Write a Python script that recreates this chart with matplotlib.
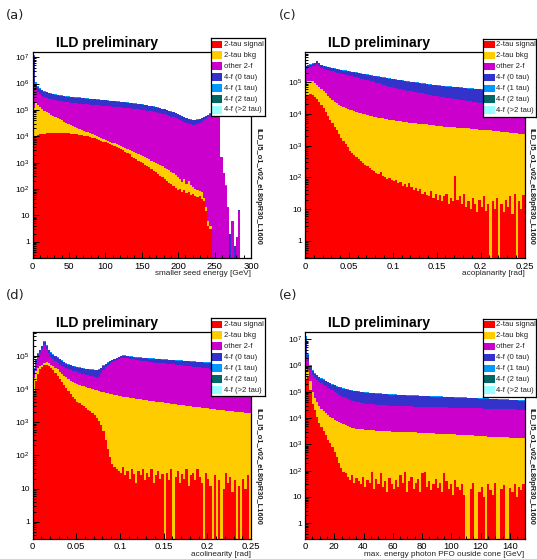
import numpy as np
import matplotlib
matplotlib.use("Agg")
import matplotlib.pyplot as plt
from matplotlib.ticker import FixedLocator, FixedFormatter, NullFormatter, MultipleLocator, FuncFormatter
from matplotlib.patches import Rectangle

plt.rcParams['font.family'] = ['Liberation Sans', 'DejaVu Sans']
plt.rcParams['mathtext.fontset'] = 'custom'
plt.rcParams['mathtext.rm'] = 'Liberation Sans'
plt.rcParams['mathtext.it'] = 'Liberation Sans:italic'
plt.rcParams['mathtext.bf'] = 'Liberation Sans:bold'

# ---------------------------------------------------------------- data
legend_labels = ['2-tau signal', '2-tau bkg', 'other 2-f', '4-f (0 tau)',
                 '4-f (1 tau)', '4-f (2 tau)', '4-f (>2 tau)']
legend_colors = ['#ff0000', '#ffcc00', '#cc00cc', '#3333cc', '#0099ff', '#006666', '#99ffff']
run_tag = 'ILD_l5_o1_v02_eL80pR30_L1600'
title_text = 'ILD preliminary'

# Stacked (cumulative) bin heights, 100 bins per panel.
# (a) smaller seed energy [GeV], 0-300
a_sig = [9.0e3, 1.05e4, 1.12e4, 1.17e4, 1.2e4, 1.26e4, 1.3e4, 1.32e4, 1.35e4, 1.32e4,
         1.35e4, 1.33e4, 1.32e4, 1.3e4, 1.32e4, 1.29e4, 1.28e4, 1.26e4, 1.25e4, 1.23e4,
         1.2e4, 1.15e4, 1.12e4, 1.07e4, 1.05e4, 1.0e4, 9.5e3, 8.9e3, 8.5e3, 7.9e3,
         7.4e3, 6.9e3, 6.3e3, 5.9e3, 5.5e3, 5.0e3, 4.6e3, 4.2e3, 3.8e3, 3.5e3,
         3.2e3, 2.9e3, 2.6e3, 2.35e3, 2.1e3, 1.7e3, 1.5e3, 1.35e3, 1.2e3, 1.1e3,
         1.0e3, 850, 760, 660, 560, 500, 430, 360, 320, 280,
         240, 200, 175, 150, 125, 112, 95, 100, 80, 90,
         70, 80, 60, 66, 56, 50, 52, 40, 35, 14,
         4, 3, 0, 0, 0, 0, 0, 0, 0, 0,
         0, 0, 0, 0, 0, 0, 0, 0, 0, 0]
a_bkg = [1.2e5, 1.8e5, 1.5e5, 1.25e5, 1.1e5, 9.5e4, 8.5e4, 7.5e4, 6.7e4, 6.0e4,
         5.4e4, 4.9e4, 4.4e4, 4.0e4, 3.6e4, 3.3e4, 3.0e4, 2.75e4, 2.5e4, 2.3e4,
         2.1e4, 1.95e4, 1.8e4, 1.65e4, 1.5e4, 1.4e4, 1.3e4, 1.2e4, 1.1e4, 1.0e4,
         9.2e3, 8.5e3, 7.9e3, 7.3e3, 6.8e3, 6.3e3, 5.8e3, 5.4e3, 5.0e3, 4.6e3,
         4.3e3, 3.9e3, 3.6e3, 3.3e3, 3.05e3, 2.8e3, 2.55e3, 2.35e3, 2.15e3, 1.95e3,
         1.8e3, 1.6e3, 1.45e3, 1.35e3, 1.2e3, 1.1e3, 1.0e3, 880, 800, 720,
         650, 560, 520, 450, 400, 330, 280, 250, 190, 240,
         160, 200, 140, 120, 100, 90, 85, 80, 45, 20,
         6, 4, 0, 0, 0, 0, 0, 0, 0, 0,
         0, 0, 0, 0, 0, 0, 0, 0, 0, 0]
a_oth = [1.0e6, 7.0e5, 4.8e5, 4.0e5, 3.5e5, 3.1e5, 2.9e5, 2.7e5, 2.55e5, 2.45e5,
         2.35e5, 2.25e5, 2.2e5, 2.12e5, 2.05e5, 2.0e5, 1.95e5, 1.9e5, 1.85e5, 1.82e5,
         1.78e5, 1.75e5, 1.7e5, 1.68e5, 1.65e5, 1.62e5, 1.6e5, 1.57e5, 1.55e5, 1.52e5,
         1.5e5, 1.47e5, 1.45e5, 1.42e5, 1.4e5, 1.37e5, 1.35e5, 1.32e5, 1.3e5, 1.27e5,
         1.25e5, 1.22e5, 1.2e5, 1.17e5, 1.15e5, 1.12e5, 1.1e5, 1.07e5, 1.05e5, 1.02e5,
         1.0e5, 9.7e4, 9.4e4, 9.1e4, 8.8e4, 8.5e4, 8.2e4, 7.8e4, 7.5e4, 7.1e4,
         6.8e4, 6.4e4, 6.0e4, 5.6e4, 5.2e4, 4.8e4, 4.4e4, 4.0e4, 3.7e4, 3.4e4,
         3.2e4, 3.0e4, 2.9e4, 2.8e4, 2.8e4, 2.9e4, 3.1e4, 3.5e4, 4.0e4, 4.6e4,
         5.5e4, 6.5e4, 7.5e4, 8.5e4, 9.0e4, 8.0e4, 1.6e3, 400, 130, 20,
         0, 6, 0, 1.5, 15, 0, 0, 0, 0, 0]
a_4f0 = [1.1e7, 1.0e6, 7.5e5, 6.2e5, 5.5e5, 5.0e5, 4.6e5, 4.3e5, 4.1e5, 3.9e5,
         3.75e5, 3.6e5, 3.5e5, 3.4e5, 3.3e5, 3.2e5, 3.1e5, 3.05e5, 3.0e5, 2.95e5,
         2.9e5, 2.85e5, 2.8e5, 2.75e5, 2.7e5, 2.65e5, 2.6e5, 2.55e5, 2.5e5, 2.46e5,
         2.42e5, 2.38e5, 2.34e5, 2.3e5, 2.25e5, 2.2e5, 2.16e5, 2.12e5, 2.08e5, 2.04e5,
         2.0e5, 1.96e5, 1.92e5, 1.88e5, 1.84e5, 1.8e5, 1.75e5, 1.7e5, 1.66e5, 1.62e5,
         1.58e5, 1.53e5, 1.48e5, 1.43e5, 1.38e5, 1.33e5, 1.28e5, 1.22e5, 1.16e5, 1.1e5,
         1.04e5, 9.8e4, 9.2e4, 8.6e4, 8.0e4, 7.4e4, 6.8e4, 6.2e4, 5.7e4, 5.2e4,
         4.8e4, 4.5e4, 4.3e4, 4.2e4, 4.2e4, 4.3e4, 4.5e4, 4.8e4, 5.3e4, 5.9e4,
         6.5e4, 7.3e4, 8.2e4, 9.2e4, 9.6e4, 8.6e4, 1.65e3, 410, 135, 21,
         2, 6, 0.7, 1.5, 15.5, 0, 0, 0, 0, 0]
a_4f1 = [1.2e7, 1.15e6, 8.3e5, 6.7e5, 5.9e5, 5.35e5, 4.9e5, 4.55e5, 4.35e5, 4.1e5,
         3.95e5, 3.8e5, 3.68e5, 3.57e5, 3.46e5, 3.35e5, 3.25e5, 3.19e5, 3.13e5, 3.08e5,
         3.03e5, 2.97e5, 2.92e5, 2.86e5, 2.81e5, 2.76e5, 2.7e5, 2.65e5, 2.6e5, 2.56e5,
         2.51e5, 2.47e5, 2.43e5, 2.39e5, 2.33e5, 2.28e5, 2.24e5, 2.2e5, 2.15e5, 2.11e5,
         2.07e5, 2.03e5, 1.99e5, 1.94e5, 1.9e5, 1.86e5, 1.81e5, 1.76e5, 1.71e5, 1.67e5,
         1.63e5, 1.58e5, 1.53e5, 1.47e5, 1.42e5, 1.37e5, 1.32e5, 1.26e5, 1.19e5, 1.13e5,
         1.07e5, 1.01e5, 9.45e4, 8.85e4, 8.2e4, 7.6e4, 6.95e4, 6.35e4, 5.85e4, 5.3e4,
         4.9e4, 4.6e4, 4.4e4, 4.3e4, 4.3e4, 4.4e4, 4.6e4, 4.9e4, 5.4e4, 6.0e4,
         6.6e4, 7.4e4, 8.3e4, 9.3e4, 9.7e4, 8.7e4, 1.67e3, 415, 136, 21,
         2, 6, 0.7, 1.5, 15.5, 0, 0, 0, 0, 0]

# (c) acoplanarity [rad], 0-0.25
c_sig = [3.6e4, 4.0e4, 4.2e4, 4.0e4, 3.5e4, 3.0e4, 2.4e4, 1.9e4, 1.5e4, 1.15e4,
         8.5e3, 6.5e3, 5.0e3, 3.8e3, 3.0e3, 2.3e3, 1.8e3, 1.4e3, 1.1e3, 900,
         700, 600, 520, 430, 380, 340, 280, 250, 230, 200,
         170, 160, 140, 125, 150, 110, 100, 90, 95, 80,
         75, 85, 65, 70, 55, 60, 48, 65, 50, 40,
         45, 38, 42, 30, 35, 28, 25, 38, 22, 30,
         20, 28, 18, 25, 30, 15, 22, 18, 110, 20,
         25, 15, 30, 12, 18, 10, 22, 14, 8, 20,
         12, 25, 9, 15, 0, 18, 10, 22, 0, 15,
         8, 20, 12, 25, 7, 30, 0, 18, 10, 28]
c_bkg = [9.0e4, 1.05e5, 1.1e5, 1.05e5, 9.5e4, 8.2e4, 7.0e4, 6.0e4, 5.2e4, 4.4e4,
         3.7e4, 3.2e4, 2.8e4, 2.45e4, 2.15e4, 1.9e4, 1.75e4, 1.6e4, 1.5e4, 1.42e4,
         1.35e4, 1.28e4, 1.22e4, 1.16e4, 1.1e4, 1.05e4, 1.0e4, 9.6e3, 9.2e3, 8.8e3,
         8.6e3, 8.2e3, 7.9e3, 7.7e3, 7.4e3, 7.2e3, 7.0e3, 6.7e3, 6.6e3, 6.4e3,
         6.2e3, 6.1e3, 5.9e3, 5.8e3, 5.7e3, 5.5e3, 5.5e3, 5.3e3, 5.3e3, 5.1e3,
         5.1e3, 4.9e3, 4.9e3, 4.8e3, 4.7e3, 4.65e3, 4.6e3, 4.4e3, 4.45e3, 4.3e3,
         4.3e3, 4.15e3, 4.15e3, 4.0e3, 4.0e3, 3.9e3, 3.9e3, 3.8e3, 3.85e3, 3.7e3,
         3.7e3, 3.6e3, 3.6e3, 3.5e3, 3.5e3, 3.4e3, 3.4e3, 3.3e3, 3.3e3, 3.2e3,
         3.2e3, 3.1e3, 3.1e3, 3.0e3, 3.0e3, 2.9e3, 2.9e3, 2.85e3, 2.8e3, 2.7e3,
         2.7e3, 2.65e3, 2.65e3, 2.55e3, 2.55e3, 2.5e3, 2.5e3, 2.4e3, 2.4e3, 2.35e3]
c_oth = [2.6e5, 2.8e5, 3.0e5, 3.2e5, 3.3e5, 3.8e5, 3.2e5, 2.8e5, 2.6e5, 2.5e5,
         2.4e5, 2.3e5, 2.2e5, 2.1e5, 2.0e5, 1.93e5, 1.86e5, 1.8e5, 1.73e5, 1.67e5,
         1.6e5, 1.54e5, 1.48e5, 1.42e5, 1.36e5, 1.3e5, 1.25e5, 1.2e5, 1.15e5, 1.1e5,
         1.05e5, 1.0e5, 9.6e4, 9.2e4, 8.8e4, 8.4e4, 8.0e4, 7.6e4, 7.2e4, 6.9e4,
         6.6e4, 6.4e4, 6.2e4, 6.0e4, 5.8e4, 5.6e4, 5.45e4, 5.3e4, 5.1e4, 4.95e4,
         4.8e4, 4.65e4, 4.5e4, 4.4e4, 4.25e4, 4.1e4, 4.0e4, 3.9e4, 3.8e4, 3.7e4,
         3.6e4, 3.5e4, 3.42e4, 3.34e4, 3.26e4, 3.18e4, 3.1e4, 3.02e4, 2.95e4, 2.88e4,
         2.81e4, 2.74e4, 2.67e4, 2.6e4, 2.54e4, 2.48e4, 2.42e4, 2.37e4, 2.32e4, 2.27e4,
         2.22e4, 2.17e4, 2.12e4, 2.08e4, 2.04e4, 2.0e4, 1.96e4, 1.92e4, 1.88e4, 1.84e4,
         1.8e4, 1.77e4, 1.74e4, 1.71e4, 1.68e4, 1.65e4, 1.62e4, 1.59e4, 1.56e4, 1.53e4]
c_4f0 = [3.2e5, 3.4e5, 3.6e5, 3.8e5, 4.0e5, 4.6e5, 3.9e5, 3.4e5, 3.2e5, 3.05e5,
         2.95e5, 2.85e5, 2.75e5, 2.65e5, 2.55e5, 2.47e5, 2.4e5, 2.33e5, 2.26e5, 2.2e5,
         2.14e5, 2.08e5, 2.02e5, 1.96e5, 1.9e5, 1.85e5, 1.8e5, 1.75e5, 1.7e5, 1.65e5,
         1.6e5, 1.56e5, 1.52e5, 1.48e5, 1.44e5, 1.4e5, 1.36e5, 1.32e5, 1.28e5, 1.25e5,
         1.22e5, 1.19e5, 1.16e5, 1.13e5, 1.1e5, 1.07e5, 1.04e5, 1.02e5, 1.0e5, 9.8e4,
         9.6e4, 9.4e4, 9.2e4, 9.0e4, 8.8e4, 8.6e4, 8.4e4, 8.2e4, 8.0e4, 7.9e4,
         7.8e4, 7.6e4, 7.5e4, 7.4e4, 7.3e4, 7.2e4, 7.1e4, 7.0e4, 6.9e4, 6.8e4,
         6.7e4, 6.6e4, 6.5e4, 6.4e4, 6.3e4, 6.2e4, 6.1e4, 6.0e4, 5.95e4, 5.9e4,
         5.85e4, 5.8e4, 5.75e4, 5.7e4, 5.65e4, 5.6e4, 5.55e4, 5.5e4, 5.45e4, 5.4e4,
         5.35e4, 5.3e4, 5.25e4, 5.2e4, 5.15e4, 5.1e4, 5.05e4, 5.0e4, 5.0e4, 4.95e4]
c_4f1 = [3.35e5, 3.55e5, 3.75e5, 3.95e5, 4.15e5, 4.8e5, 4.05e5, 3.55e5, 3.33e5, 3.17e5,
         3.07e5, 2.96e5, 2.86e5, 2.76e5, 2.65e5, 2.57e5, 2.5e5, 2.42e5, 2.35e5, 2.29e5,
         2.23e5, 2.16e5, 2.1e5, 2.04e5, 1.98e5, 1.92e5, 1.87e5, 1.82e5, 1.77e5, 1.72e5,
         1.66e5, 1.62e5, 1.58e5, 1.54e5, 1.5e5, 1.46e5, 1.41e5, 1.37e5, 1.33e5, 1.3e5,
         1.27e5, 1.24e5, 1.21e5, 1.18e5, 1.14e5, 1.11e5, 1.08e5, 1.06e5, 1.04e5, 1.02e5,
         1.0e5, 9.8e4, 9.6e4, 9.35e4, 9.15e4, 8.95e4, 8.75e4, 8.55e4, 8.3e4, 8.2e4,
         8.1e4, 7.9e4, 7.8e4, 7.7e4, 7.6e4, 7.5e4, 7.4e4, 7.3e4, 7.2e4, 7.1e4,
         6.95e4, 6.85e4, 6.75e4, 6.65e4, 6.55e4, 6.45e4, 6.35e4, 6.25e4, 6.2e4, 6.15e4,
         6.1e4, 6.05e4, 6.0e4, 5.95e4, 5.9e4, 5.85e4, 5.8e4, 5.7e4, 5.65e4, 5.6e4,
         5.55e4, 5.5e4, 5.45e4, 5.4e4, 5.35e4, 5.3e4, 5.25e4, 5.2e4, 5.2e4, 5.15e4]

# (d) acolinearity [rad], 0-0.25
d_sig = [9e3, 1.8e4, 2.8e4, 4.0e4, 4.6e4, 5.2e4, 5.3e4, 5.0e4, 4.4e4, 3.7e4,
         3.1e4, 2.5e4, 2.0e4, 1.6e4, 1.3e4, 1.05e4, 8.5e3, 7.0e3, 5.8e3, 4.9e3,
         4.2e3, 3.7e3, 3.3e3, 3.0e3, 2.7e3, 2.4e3, 2.2e3, 1.9e3, 1.6e3, 1.35e3,
         1.1e3, 850, 550, 300, 160, 90, 55, 45, 40, 35,
         30, 45, 25, 35, 20, 40, 28, 15, 35, 25,
         40, 18, 30, 22, 38, 15, 25, 35, 20, 28,
         0, 30, 18, 40, 0, 22, 35, 15, 28, 20,
         38, 12, 25, 30, 18, 40, 22, 15, 0, 30,
         20, 12, 0, 25, 0, 18, 0, 10, 30, 15,
         22, 8, 18, 0, 12, 0, 20, 10, 25, 0]
d_bkg = [2.2e4, 3.4e4, 4.2e4, 5.0e4, 5.5e4, 6.2e4, 6.6e4, 6.0e4, 5.5e4, 5.0e4,
         4.4e4, 3.9e4, 3.2e4, 2.8e4, 2.5e4, 2.25e4, 2.0e4, 1.8e4, 1.65e4, 1.5e4,
         1.38e4, 1.3e4, 1.25e4, 1.2e4, 1.15e4, 1.1e4, 1.05e4, 1.0e4, 9.6e3, 9.2e3,
         8.8e3, 8.4e3, 8.0e3, 7.7e3, 7.4e3, 7.1e3, 6.9e3, 6.7e3, 6.5e3, 6.3e3,
         6.1e3, 5.95e3, 5.8e3, 5.65e3, 5.5e3, 5.4e3, 5.3e3, 5.2e3, 5.05e3, 4.9e3,
         4.8e3, 4.7e3, 4.6e3, 4.5e3, 4.4e3, 4.3e3, 4.2e3, 4.1e3, 4.0e3, 3.95e3,
         3.85e3, 3.75e3, 3.7e3, 3.6e3, 3.5e3, 3.45e3, 3.4e3, 3.3e3, 3.25e3, 3.2e3,
         3.1e3, 3.05e3, 3.0e3, 2.95e3, 2.9e3, 2.85e3, 2.8e3, 2.75e3, 2.7e3, 2.65e3,
         2.6e3, 2.55e3, 2.5e3, 2.45e3, 2.4e3, 2.4e3, 2.35e3, 2.3e3, 2.25e3, 2.2e3,
         2.2e3, 2.15e3, 2.1e3, 2.1e3, 2.05e3, 2.0e3, 2.0e3, 1.95e3, 1.95e3, 1.9e3]
d_oth = [2.8e4, 6.0e4, 9.0e4, 1.2e5, 1.6e5, 2.2e5, 1.6e5, 1.2e5, 9.5e4, 8.0e4,
         7.0e4, 6.2e4, 5.5e4, 5.0e4, 4.6e4, 4.3e4, 4.0e4, 3.8e4, 3.6e4, 3.4e4,
         3.2e4, 3.05e4, 2.9e4, 2.8e4, 2.7e4, 2.6e4, 2.5e4, 2.4e4, 2.3e4, 2.2e4,
         2.3e4, 3.0e4, 3.8e4, 4.5e4, 5.2e4, 5.8e4, 6.4e4, 7.0e4, 7.6e4, 8.2e4,
         8.6e4, 8.8e4, 8.6e4, 8.4e4, 8.2e4, 8.0e4, 7.8e4, 7.6e4, 7.4e4, 7.2e4,
         7.0e4, 6.9e4, 6.8e4, 6.6e4, 6.5e4, 6.3e4, 6.25e4, 6.2e4, 6.1e4, 6.05e4,
         6.0e4, 5.9e4, 5.8e4, 5.7e4, 5.6e4, 5.5e4, 5.4e4, 5.3e4, 5.2e4, 5.1e4,
         5.0e4, 4.9e4, 4.8e4, 4.7e4, 4.65e4, 4.55e4, 4.5e4, 4.4e4, 4.35e4, 4.25e4,
         4.2e4, 4.1e4, 4.05e4, 3.95e4, 3.9e4, 3.85e4, 3.75e4, 3.7e4, 3.65e4, 3.6e4,
         3.5e4, 3.45e4, 3.4e4, 3.35e4, 3.3e4, 3.25e4, 3.2e4, 3.15e4, 3.1e4, 3.05e4]
d_4f0 = [4.0e4, 8.0e4, 1.15e5, 1.5e5, 1.95e5, 2.7e5, 2.0e5, 1.5e5, 1.25e5, 1.1e5,
         9.8e4, 8.8e4, 7.8e4, 7.0e4, 6.4e4, 5.9e4, 5.5e4, 5.2e4, 4.9e4, 4.7e4,
         4.5e4, 4.3e4, 4.2e4, 4.1e4, 4.0e4, 3.9e4, 3.8e4, 3.75e4, 3.7e4, 3.65e4,
         3.8e4, 4.3e4, 5.0e4, 5.6e4, 6.2e4, 6.8e4, 7.4e4, 8.0e4, 8.6e4, 9.2e4,
         9.8e4, 1.0e5, 9.9e4, 9.7e4, 9.5e4, 9.3e4, 9.1e4, 8.9e4, 8.8e4, 8.7e4,
         8.6e4, 8.5e4, 8.4e4, 8.3e4, 8.2e4, 8.1e4, 8.0e4, 7.9e4, 7.8e4, 7.7e4,
         7.6e4, 7.5e4, 7.45e4, 7.4e4, 7.3e4, 7.2e4, 7.15e4, 7.1e4, 7.0e4, 6.95e4,
         6.9e4, 6.8e4, 6.7e4, 6.65e4, 6.6e4, 6.5e4, 6.45e4, 6.4e4, 6.3e4, 6.25e4,
         6.2e4, 6.1e4, 6.05e4, 6.0e4, 5.95e4, 5.9e4, 5.85e4, 5.8e4, 5.75e4, 5.7e4,
         5.65e4, 5.6e4, 5.55e4, 5.5e4, 5.45e4, 5.4e4, 5.35e4, 5.3e4, 5.25e4, 5.2e4]
d_4f1 = [4.2e4, 8.3e4, 1.2e5, 1.56e5, 2.03e5, 2.8e5, 2.08e5, 1.56e5, 1.3e5, 1.14e5,
         1.02e5, 9.15e4, 8.1e4, 7.3e4, 6.65e4, 6.15e4, 5.7e4, 5.4e4, 5.1e4, 4.9e4,
         4.7e4, 4.5e4, 4.35e4, 4.25e4, 4.15e4, 4.05e4, 3.95e4, 3.9e4, 3.85e4, 3.8e4,
         3.95e4, 4.45e4, 5.2e4, 5.8e4, 6.45e4, 7.05e4, 7.7e4, 8.3e4, 8.95e4, 9.55e4,
         1.02e5, 1.04e5, 1.03e5, 1.01e5, 9.9e4, 9.65e4, 9.45e4, 9.25e4, 9.15e4, 9.05e4,
         8.95e4, 8.85e4, 8.75e4, 8.65e4, 8.5e4, 8.4e4, 8.3e4, 8.2e4, 8.1e4, 8.0e4,
         7.9e4, 7.8e4, 7.75e4, 7.7e4, 7.6e4, 7.5e4, 7.45e4, 7.4e4, 7.3e4, 7.25e4,
         7.2e4, 7.05e4, 6.95e4, 6.9e4, 6.85e4, 6.75e4, 6.7e4, 6.65e4, 6.55e4, 6.5e4,
         6.45e4, 6.35e4, 6.3e4, 6.25e4, 6.2e4, 6.15e4, 6.1e4, 6.05e4, 6.0e4, 5.95e4,
         5.9e4, 5.8e4, 5.75e4, 5.7e4, 5.65e4, 5.6e4, 5.55e4, 5.5e4, 5.45e4, 5.4e4]

# (e) max. energy photon PFO outside cone [GeV], 0-150
e_sig = [3e5, 4e5, 1.2e5, 3.5e4, 2.0e4, 1.1e4, 6.5e3, 4.5e3, 3.2e3, 2.2e3,
         1.5e3, 1.1e3, 800, 500, 320, 200, 125, 90, 80, 60,
         45, 70, 35, 55, 40, 30, 60, 25, 45, 35,
         90, 20, 50, 30, 85, 25, 40, 15, 55, 30,
         20, 45, 25, 70, 35, 90, 15, 40, 60, 20,
         35, 50, 15, 80, 90, 25, 40, 18, 30, 50,
         22, 35, 15, 80, 40, 20, 30, 12, 45, 25,
         18, 30, 12, 0, 0, 20, 35, 0, 0, 15,
         25, 10, 0, 30, 18, 12, 35, 0, 0, 20,
         28, 0, 0, 22, 15, 30, 10, 25, 18, 30]
e_bkg = [8e5, 7e5, 2.5e5, 1.0e5, 6.0e4, 4.0e4, 3.0e4, 2.3e4, 1.9e4, 1.6e4,
         1.35e4, 1.15e4, 1.0e4, 8.8e3, 7.8e3, 7.0e3, 6.3e3, 5.8e3, 5.3e3, 4.9e3,
         4.6e3, 4.4e3, 4.2e3, 4.0e3, 3.9e3, 3.8e3, 3.7e3, 3.6e3, 3.55e3, 3.5e3,
         3.45e3, 3.4e3, 3.35e3, 3.3e3, 3.3e3, 3.25e3, 3.2e3, 3.2e3, 3.15e3, 3.1e3,
         3.1e3, 3.05e3, 3.05e3, 3.0e3, 3.0e3, 2.95e3, 2.95e3, 2.9e3, 2.9e3, 2.85e3,
         2.85e3, 2.8e3, 2.8e3, 2.75e3, 2.75e3, 2.7e3, 2.7e3, 2.65e3, 2.65e3, 2.6e3,
         2.6e3, 2.55e3, 2.55e3, 2.5e3, 2.5e3, 2.45e3, 2.45e3, 2.4e3, 2.4e3, 2.35e3,
         2.35e3, 2.3e3, 2.3e3, 2.25e3, 2.25e3, 2.2e3, 2.2e3, 2.15e3, 2.15e3, 2.1e3,
         2.1e3, 2.05e3, 2.05e3, 2.0e3, 2.0e3, 2.0e3, 1.95e3, 1.95e3, 1.9e3, 1.9e3,
         1.9e3, 1.85e3, 1.85e3, 1.8e3, 1.8e3, 1.8e3, 1.75e3, 1.75e3, 1.7e3, 1.7e3]
e_oth = [2e6, 1.5e6, 7e5, 4.5e5, 3.4e5, 2.8e5, 2.4e5, 2.1e5, 1.85e5, 1.65e5,
         1.45e5, 1.3e5, 1.15e5, 1.0e5, 8.8e4, 7.8e4, 7.0e4, 6.3e4, 5.7e4, 5.2e4,
         4.8e4, 4.5e4, 4.3e4, 4.1e4, 3.95e4, 3.8e4, 3.7e4, 3.6e4, 3.5e4, 3.45e4,
         3.4e4, 3.35e4, 3.3e4, 3.25e4, 3.2e4, 3.15e4, 3.1e4, 3.05e4, 3.0e4, 3.0e4,
         2.95e4, 2.95e4, 2.9e4, 2.9e4, 2.85e4, 2.85e4, 2.8e4, 2.8e4, 2.8e4, 2.75e4,
         2.75e4, 2.75e4, 2.7e4, 2.7e4, 2.7e4, 2.65e4, 2.65e4, 2.65e4, 2.6e4, 2.6e4,
         2.6e4, 2.6e4, 2.55e4, 2.55e4, 2.55e4, 2.5e4, 2.5e4, 2.5e4, 2.5e4, 2.45e4,
         2.45e4, 2.45e4, 2.45e4, 2.4e4, 2.4e4, 2.4e4, 2.4e4, 2.35e4, 2.35e4, 2.35e4,
         2.35e4, 2.3e4, 2.3e4, 2.3e4, 2.3e4, 2.25e4, 2.25e4, 2.25e4, 2.25e4, 2.2e4,
         2.2e4, 2.2e4, 2.2e4, 2.15e4, 2.15e4, 2.15e4, 2.1e4, 2.1e4, 2.1e4, 2.1e4]
e_4f0 = [1.0e7, 2.5e6, 1.0e6, 6.5e5, 5.0e5, 4.2e5, 3.6e5, 3.2e5, 2.85e5, 2.55e5,
         2.3e5, 2.1e5, 1.9e5, 1.75e5, 1.6e5, 1.5e5, 1.4e5, 1.32e5, 1.25e5, 1.2e5,
         1.15e5, 1.11e5, 1.07e5, 1.04e5, 1.01e5, 9.8e4, 9.6e4, 9.4e4, 9.2e4, 9.0e4,
         8.8e4, 8.7e4, 8.5e4, 8.4e4, 8.3e4, 8.2e4, 8.1e4, 8.0e4, 7.9e4, 7.8e4,
         7.7e4, 7.6e4, 7.5e4, 7.45e4, 7.4e4, 7.3e4, 7.25e4, 7.2e4, 7.1e4, 7.05e4,
         7.0e4, 6.95e4, 6.9e4, 6.85e4, 6.8e4, 6.75e4, 6.7e4, 6.65e4, 6.6e4, 6.55e4,
         6.5e4, 6.45e4, 6.4e4, 6.35e4, 6.3e4, 6.25e4, 6.2e4, 6.15e4, 6.1e4, 6.05e4,
         6.0e4, 5.95e4, 5.9e4, 5.85e4, 5.8e4, 5.75e4, 5.7e4, 5.65e4, 5.6e4, 5.55e4,
         5.5e4, 5.45e4, 5.4e4, 5.35e4, 5.3e4, 5.25e4, 5.2e4, 5.15e4, 5.1e4, 5.05e4,
         5.0e4, 4.95e4, 4.9e4, 4.85e4, 4.8e4, 4.75e4, 4.7e4, 4.65e4, 4.6e4, 4.55e4]
e_4f1 = [1.3e7, 2.7e6, 1.06e6, 6.85e5, 5.25e5, 4.4e5, 3.78e5, 3.36e5, 2.99e5, 2.68e5,
         2.42e5, 2.2e5, 2.0e5, 1.84e5, 1.68e5, 1.58e5, 1.47e5, 1.39e5, 1.31e5, 1.26e5,
         1.21e5, 1.17e5, 1.12e5, 1.09e5, 1.06e5, 1.03e5, 1.01e5, 9.9e4, 9.7e4, 9.45e4,
         9.25e4, 9.15e4, 8.9e4, 8.8e4, 8.7e4, 8.6e4, 8.5e4, 8.4e4, 8.3e4, 8.2e4,
         8.1e4, 8.0e4, 7.9e4, 7.8e4, 7.75e4, 7.65e4, 7.6e4, 7.55e4, 7.45e4, 7.4e4,
         7.35e4, 7.3e4, 7.25e4, 7.2e4, 7.15e4, 7.1e4, 7.05e4, 7.0e4, 6.95e4, 6.9e4,
         6.8e4, 6.75e4, 6.7e4, 6.65e4, 6.6e4, 6.55e4, 6.5e4, 6.45e4, 6.4e4, 6.35e4,
         6.3e4, 6.25e4, 6.2e4, 6.15e4, 6.1e4, 6.05e4, 6.0e4, 5.95e4, 5.9e4, 5.85e4,
         5.8e4, 5.75e4, 5.7e4, 5.6e4, 5.55e4, 5.5e4, 5.45e4, 5.4e4, 5.35e4, 5.3e4,
         5.25e4, 5.2e4, 5.15e4, 5.1e4, 5.05e4, 5.0e4, 4.95e4, 4.9e4, 4.85e4, 4.8e4]

a_xticks = [0, 50, 100, 150, 200, 250, 300]
a_xticklabels = ['0', '50', '100', '150', '200', '250', '300']
cd_xticks = [0, 0.05, 0.1, 0.15, 0.2, 0.25]
cd_xticklabels = ['0', '0.05', '0.1', '0.15', '0.2', '0.25']
e_xticks = [0, 20, 40, 60, 80, 100, 120, 140]
e_xticklabels = ['0', '20', '40', '60', '80', '100', '120', '140']

# ---------------------------------------------------------------- layout
W, H = 537, 559
fig = plt.figure(figsize=(W / 100, H / 100), dpi=100)
fig.patch.set_facecolor('white')


def px_axes(l, t, r, b, **kw):
    return fig.add_axes([l / W, 1 - b / H, (r - l) / W, (b - t) / H], **kw)


def yfmt(v, pos):
    e = int(round(np.log10(v)))
    if e == 0:
        return '1'
    if e == 1:
        return '10'
    return r'$10^{%d}$' % e


panels = [
    dict(tag='(a)', box=(32.5, 51.7, 251, 258.3), x0=0, x1=300, ylog=(-0.63, 7.21),
         layers=[a_sig, a_bkg, a_oth, a_4f0, a_4f1], xt=a_xticks, xtl=a_xticklabels, minor=10,
         xlabel='smaller seed energy [GeV]', leg=(210.7, 38.3, 265, 116.3)),
    dict(tag='(c)', box=(305, 51.7, 524.5, 258.3), x0=0, x1=0.25, ylog=(-0.55, 5.96),
         layers=[c_sig, c_bkg, c_oth, c_4f0, c_4f1], xt=cd_xticks, xtl=cd_xticklabels, minor=0.01,
         xlabel='acoplanarity [rad]', leg=(483, 38.5, 536, 116.5)),
    dict(tag='(d)', box=(32.5, 331.7, 251, 539), x0=0, x1=0.25, ylog=(-0.52, 5.73),
         layers=[d_sig, d_bkg, d_oth, d_4f0, d_4f1], xt=cd_xticks, xtl=cd_xticklabels, minor=0.01,
         xlabel='acolinearity [rad]', leg=(210.7, 318.3, 265, 396.3)),
    dict(tag='(e)', box=(305, 331.7, 524.5, 539), x0=0, x1=150, ylog=(-0.6, 7.29),
         layers=[e_sig, e_bkg, e_oth, e_4f0, e_4f1], xt=e_xticks, xtl=e_xticklabels, minor=5,
         xlabel='max. energy photon PFO ouside cone [GeV]', leg=(483, 318.5, 536, 396.5)),
]

floor = 1e-3
for p in panels:
    l, t, r, b = p['box']
    ax = px_axes(l, t, r, b)
    nb = len(p['layers'][0])
    edges = np.linspace(p['x0'], p['x1'], nb + 1)
    # ROOT THStack style: draw cumulative histograms, largest first
    for vals, col in reversed(list(zip(p['layers'], legend_colors[:5]))):
        v = np.asarray(vals, dtype=float)
        v = np.where(v > 0, v, floor)
        ax.stairs(v, edges, baseline=floor, fill=True, color=col, lw=0)
    ax.set_yscale('log')
    ylo, yhi = 10 ** p['ylog'][0], 10 ** p['ylog'][1]
    ax.set_xlim(p['x0'], p['x1'])
    ax.set_ylim(ylo, yhi)
    ax.xaxis.set_major_locator(FixedLocator(p['xt']))
    ax.xaxis.set_major_formatter(FixedFormatter(p['xtl']))
    ax.xaxis.set_minor_locator(MultipleLocator(p['minor']))
    dec = np.arange(np.ceil(p['ylog'][0]), np.floor(p['ylog'][1]) + 1)
    majors = [10.0 ** d for d in dec]
    minors = [m * 10.0 ** d for d in np.arange(np.floor(p['ylog'][0]), np.floor(p['ylog'][1]) + 1)
              for m in range(2, 10) if ylo <= m * 10.0 ** d <= yhi]
    ax.yaxis.set_major_locator(FixedLocator(majors))
    ax.yaxis.set_major_formatter(FuncFormatter(yfmt))
    ax.yaxis.set_minor_locator(FixedLocator(minors))
    ax.yaxis.set_minor_formatter(NullFormatter())
    ax.tick_params(axis='both', which='both', direction='in', top=False, right=False,
                   width=0.7, color='black')
    ax.tick_params(axis='x', which='major', length=4.0, labelsize=6.8, pad=2.5)
    ax.tick_params(axis='x', which='minor', length=2.0)
    ax.tick_params(axis='y', which='major', length=4.5, labelsize=6.0, pad=2.0)
    ax.tick_params(axis='y', which='minor', length=2.3)
    for s in ax.spines.values():
        s.set_linewidth(0.9)
        s.set_color('black')
    h = b - t
    w = r - l
    ax.text(74 / w, 1 + 9 / h, title_text, transform=ax.transAxes, ha='center', va='center',
            fontsize=10.1, fontweight='bold', color='black')
    ax.text(1, -15 / h, p['xlabel'], transform=ax.transAxes, ha='right', va='center',
            fontsize=5.9, color='#222222')
    ax.text(1 + 7 / w, 1 - (128 - 51.7) / h, run_tag, transform=ax.transAxes, rotation=-90,
            ha='center', va='top', fontsize=5.4, fontweight='bold', color='#222222')
    fig.text((l - 26.5) / W, 1 - (t - 35.7) / H, p['tag'], ha='left', va='center',
             fontsize=9.5, family='DejaVu Sans', color='#222222')

    # legend box
    ll, lt, lr, lb = p['leg']
    lax = px_axes(ll, lt, lr, lb)
    lw_, lh_ = lr - ll, lb - lt
    lax.set_xlim(0, lw_)
    lax.set_ylim(lh_, 0)
    lax.set_xticks([])
    lax.set_yticks([])
    lax.set_facecolor('white')
    for s in lax.spines.values():
        s.set_linewidth(0.9)
        s.set_color('black')
    for i, (lab, col) in enumerate(zip(legend_labels, legend_colors)):
        yc = 6.0 + i * 10.95
        lax.add_patch(Rectangle((1.0, yc - 3.8), 10.6, 7.6, facecolor=col, edgecolor='none'))
        lax.text(13.0, yc, lab, ha='left', va='center', fontsize=5.5, color='#222222')

fig.savefig('out.png', dpi=100, facecolor='white')
